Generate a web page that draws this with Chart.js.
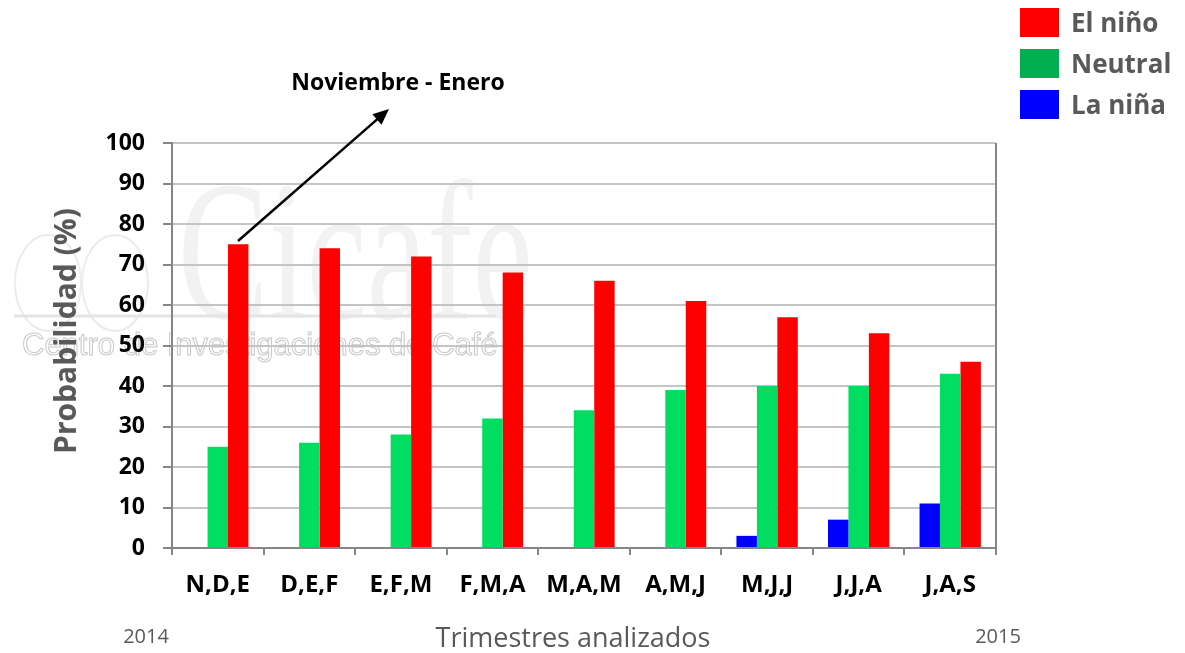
<!DOCTYPE html>
<html>
<head>
<meta charset="utf-8">
<script src="https://cdn.jsdelivr.net/npm/chart.js@4"></script>
<style>
  html, body { margin: 0; padding: 0; background: #fff; }
  #wrap { position: relative; width: 1185px; height: 653px; }
</style>
</head>
<body>
<div id="wrap"><canvas id="enso" width="1185" height="653"></canvas></div>
<script>
// Trimestres y probabilidades (%)
const categories = ['N,D,E', 'D,E,F', 'E,F,M', 'F,M,A', 'M,A,M', 'A,M,J', 'M,J,J', 'J,J,A', 'J,A,S'];
const laNina = [0, 0, 0, 0, 0, 0, 3, 7, 11];
const neutral = [25, 26, 28, 32, 34, 39, 40, 40, 43];
const elNino = [75, 74, 72, 68, 66, 61, 57, 53, 46];
const yTicks = [0, 10, 20, 30, 40, 50, 60, 70, 80, 90, 100];

const FONT = '"Open Sans", Lato, sans-serif';

// watermark behind the plot
const watermark = {
  id: 'watermark',
  beforeDraw(chart) {
    const ctx = chart.ctx;
    ctx.save();
    ctx.strokeStyle = '#ececec';
    ctx.lineWidth = 2;
    ctx.beginPath();
    ctx.ellipse(48, 283, 33, 48, 0, 0, Math.PI * 2);
    ctx.stroke();
    ctx.beginPath();
    ctx.ellipse(115, 283, 33, 48, 0, 0, Math.PI * 2);
    ctx.stroke();
    ctx.fillStyle = '#f2f2f2';
    ctx.font = '200px "Liberation Serif", serif';
    ctx.textBaseline = 'alphabetic';
    ctx.translate(178, 318);
    ctx.scale(0.68, 1);
    ctx.fillText('Cicafe', 0, 0);
    ctx.restore();

    ctx.save();
    ctx.strokeStyle = '#e4e4e4';
    ctx.lineWidth = 3;
    ctx.beginPath();
    ctx.moveTo(14, 316);
    ctx.lineTo(496, 316);
    ctx.stroke();
    ctx.strokeStyle = '#c8c8c8';
    ctx.lineWidth = 1;
    ctx.font = '31px "Liberation Sans", sans-serif';
    ctx.textBaseline = 'middle';
    ctx.strokeText('Centro de Investigaciones de Café', 22, 346);
    ctx.restore();
  }
};

// titles, years, annotation, legend, right border
const extras = {
  id: 'extras',
  afterDraw(chart) {
    const ctx = chart.ctx;
    const a = chart.chartArea;
    ctx.save();

    // right border of the plot
    ctx.strokeStyle = '#868686';
    ctx.lineWidth = 2;
    ctx.beginPath();
    ctx.moveTo(a.right, a.top);
    ctx.lineTo(a.right, a.bottom + 7);
    ctx.stroke();

    // y title
    ctx.fillStyle = '#595959';
    ctx.font = 'bold 30px ' + FONT;
    ctx.textAlign = 'center';
    ctx.textBaseline = 'middle';
    ctx.save();
    ctx.translate(67, 331);
    ctx.rotate(-Math.PI / 2);
    ctx.fillText('Probabilidad (%)', 0, 0);
    ctx.restore();

    // x title and years
    ctx.font = '27px ' + FONT;
    ctx.fillText('Trimestres analizados', 573, 639);
    ctx.font = '20px ' + FONT;
    ctx.fillText('2014', 146, 637);
    ctx.fillText('2015', 998, 637);

    // annotation
    ctx.fillStyle = '#000';
    ctx.font = 'bold 23px ' + FONT;
    ctx.fillText('Noviembre - Enero', 398, 83);
    const x0 = 238, y0 = 241, x1 = 389, y1 = 109;
    const ang = Math.atan2(y1 - y0, x1 - x0);
    ctx.strokeStyle = '#000';
    ctx.lineWidth = 2.5;
    ctx.beginPath();
    ctx.moveTo(x0, y0);
    ctx.lineTo(x1 - 12 * Math.cos(ang), y1 - 12 * Math.sin(ang));
    ctx.stroke();
    ctx.beginPath();
    ctx.moveTo(x1, y1);
    ctx.lineTo(x1 - 16 * Math.cos(ang) + 7 * Math.sin(ang), y1 - 16 * Math.sin(ang) - 7 * Math.cos(ang));
    ctx.lineTo(x1 - 16 * Math.cos(ang) - 7 * Math.sin(ang), y1 - 16 * Math.sin(ang) + 7 * Math.cos(ang));
    ctx.closePath();
    ctx.fill();

    // legend (El niño, Neutral, La niña)
    const items = [
      { label: 'El niño', color: '#ff0000' },
      { label: 'Neutral', color: '#00b050' },
      { label: 'La niña', color: '#0000ff' }
    ];
    ctx.font = 'bold 26px ' + FONT;
    ctx.textAlign = 'left';
    items.forEach((it, i) => {
      const y = 8 + i * 41;
      ctx.fillStyle = it.color;
      ctx.fillRect(1020, y, 39, 29);
      ctx.fillStyle = '#595959';
      ctx.fillText(it.label, 1071, y + 17);
    });
    ctx.restore();
  }
};

const ctx = document.getElementById('enso').getContext('2d');
new Chart(ctx, {
  type: 'bar',
  data: {
    labels: categories,
    datasets: [
      { label: 'La niña', data: laNina, backgroundColor: '#0000ff' },
      { label: 'Neutral', data: neutral, backgroundColor: '#00dd60' },
      { label: 'El niño', data: elNino, backgroundColor: '#ff0000' }
    ]
  },
  options: {
    responsive: false,
    animation: false,
    devicePixelRatio: 1,
    layout: { padding: { left: 0, right: 189, top: 143, bottom: 0 } },
    datasets: {
      bar: { categoryPercentage: 0.67, barPercentage: 1.0 }
    },
    plugins: {
      legend: { display: false },
      tooltip: { enabled: false }
    },
    scales: {
      x: {
        afterFit(scale) { scale.height = 105; },
        grid: {
          display: true,
          drawOnChartArea: false,
          offset: true,
          tickLength: 7,
          color: '#868686',
          lineWidth: 2
        },
        border: { color: '#868686', width: 2 },
        ticks: {
          color: '#000',
          padding: 16,
          font: { family: FONT, size: 24, weight: 'bold' }
        }
      },
      y: {
        min: 0,
        max: 100,
        afterFit(scale) { scale.width = 172; },
        afterBuildTicks(scale) { scale.ticks = yTicks.map(v => ({ value: v })); },
        grid: {
          color: '#c4c4c4',
          lineWidth: 2,
          tickLength: 9,
          tickColor: '#868686'
        },
        border: { color: '#868686', width: 2 },
        ticks: {
          color: '#000',
          padding: 18,
          font: { family: FONT, size: 23, weight: 'bold' }
        }
      }
    }
  },
  plugins: [watermark, extras]
});
</script>
</body>
</html>
